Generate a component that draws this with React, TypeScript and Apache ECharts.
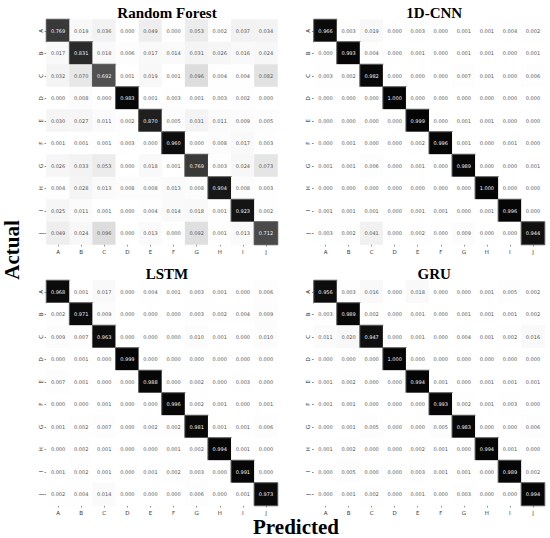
import React, { useEffect, useRef } from 'react';
import * as echarts from 'echarts';

const classes = ['A', 'B', 'C', 'D', 'E', 'F', 'G', 'H', 'I', 'J'];

const rfMatrix = [
  [0.769, 0.019, 0.036, 0.000, 0.049, 0.000, 0.053, 0.002, 0.037, 0.034],
  [0.017, 0.831, 0.018, 0.006, 0.017, 0.014, 0.031, 0.026, 0.016, 0.024],
  [0.032, 0.070, 0.692, 0.001, 0.019, 0.001, 0.096, 0.004, 0.004, 0.082],
  [0.000, 0.008, 0.000, 0.983, 0.001, 0.003, 0.001, 0.003, 0.002, 0.000],
  [0.030, 0.027, 0.011, 0.002, 0.870, 0.005, 0.031, 0.011, 0.009, 0.005],
  [0.001, 0.001, 0.001, 0.003, 0.000, 0.960, 0.000, 0.008, 0.017, 0.003],
  [0.026, 0.033, 0.053, 0.000, 0.018, 0.001, 0.769, 0.003, 0.024, 0.073],
  [0.004, 0.028, 0.013, 0.008, 0.008, 0.013, 0.008, 0.904, 0.008, 0.003],
  [0.025, 0.011, 0.001, 0.000, 0.004, 0.014, 0.018, 0.001, 0.923, 0.002],
  [0.049, 0.024, 0.096, 0.000, 0.013, 0.000, 0.092, 0.001, 0.013, 0.712],
];

const cnnMatrix = [
  [0.966, 0.003, 0.019, 0.000, 0.003, 0.000, 0.001, 0.001, 0.004, 0.002],
  [0.000, 0.993, 0.004, 0.000, 0.001, 0.000, 0.001, 0.001, 0.000, 0.001],
  [0.003, 0.002, 0.982, 0.000, 0.000, 0.000, 0.007, 0.001, 0.000, 0.006],
  [0.000, 0.000, 0.000, 1.000, 0.000, 0.000, 0.000, 0.000, 0.000, 0.000],
  [0.000, 0.000, 0.000, 0.000, 0.999, 0.000, 0.001, 0.001, 0.000, 0.000],
  [0.000, 0.001, 0.000, 0.000, 0.002, 0.996, 0.001, 0.000, 0.001, 0.000],
  [0.001, 0.001, 0.006, 0.000, 0.001, 0.000, 0.989, 0.000, 0.000, 0.001],
  [0.000, 0.000, 0.000, 0.000, 0.000, 0.000, 0.000, 1.000, 0.000, 0.000],
  [0.001, 0.001, 0.001, 0.000, 0.001, 0.001, 0.000, 0.001, 0.996, 0.000],
  [0.003, 0.002, 0.041, 0.000, 0.002, 0.000, 0.009, 0.000, 0.000, 0.944],
];

const lstmMatrix = [
  [0.968, 0.001, 0.017, 0.000, 0.004, 0.001, 0.003, 0.001, 0.000, 0.006],
  [0.002, 0.971, 0.009, 0.000, 0.000, 0.000, 0.003, 0.002, 0.004, 0.009],
  [0.009, 0.007, 0.963, 0.000, 0.000, 0.000, 0.010, 0.001, 0.000, 0.010],
  [0.000, 0.001, 0.000, 0.999, 0.000, 0.000, 0.000, 0.000, 0.000, 0.000],
  [0.007, 0.001, 0.000, 0.000, 0.988, 0.000, 0.002, 0.000, 0.003, 0.000],
  [0.000, 0.000, 0.001, 0.000, 0.000, 0.996, 0.002, 0.001, 0.000, 0.001],
  [0.001, 0.002, 0.007, 0.000, 0.002, 0.002, 0.981, 0.001, 0.001, 0.006],
  [0.000, 0.002, 0.001, 0.000, 0.000, 0.001, 0.002, 0.994, 0.001, 0.000],
  [0.001, 0.002, 0.001, 0.000, 0.001, 0.002, 0.003, 0.000, 0.991, 0.000],
  [0.002, 0.004, 0.014, 0.000, 0.000, 0.000, 0.006, 0.000, 0.001, 0.973],
];

const gruMatrix = [
  [0.956, 0.003, 0.016, 0.000, 0.018, 0.000, 0.000, 0.001, 0.005, 0.002],
  [0.003, 0.989, 0.002, 0.000, 0.001, 0.000, 0.001, 0.001, 0.001, 0.002],
  [0.011, 0.020, 0.947, 0.000, 0.001, 0.000, 0.004, 0.001, 0.002, 0.016],
  [0.000, 0.000, 0.000, 1.000, 0.000, 0.000, 0.000, 0.000, 0.000, 0.000],
  [0.001, 0.002, 0.000, 0.000, 0.994, 0.001, 0.000, 0.001, 0.001, 0.001],
  [0.001, 0.001, 0.000, 0.000, 0.000, 0.993, 0.002, 0.001, 0.003, 0.000],
  [0.000, 0.001, 0.005, 0.000, 0.000, 0.005, 0.983, 0.000, 0.000, 0.006],
  [0.001, 0.002, 0.000, 0.000, 0.002, 0.001, 0.000, 0.994, 0.001, 0.000],
  [0.000, 0.005, 0.000, 0.000, 0.003, 0.001, 0.001, 0.000, 0.989, 0.002],
  [0.000, 0.001, 0.002, 0.000, 0.001, 0.000, 0.003, 0.000, 0.000, 0.994],
];

const modelTitles = ['Random Forest', '1D-CNN', 'LSTM', 'GRU'];
const matrices = [rfMatrix, cnnMatrix, lstmMatrix, gruMatrix];

const gridBoxes = [
  { left: 46.5, top: 19.5, width: 231, height: 225 },
  { left: 314, top: 19.5, width: 230.5, height: 225 },
  { left: 46.5, top: 280.5, width: 231, height: 225 },
  { left: 314, top: 280.5, width: 230.5, height: 225 },
];

const serif = '"Liberation Serif", "Times New Roman", serif';
const sans = '"DejaVu Sans", sans-serif';

export default function App() {
  const ref = useRef<HTMLDivElement>(null);

  useEffect(() => {
    if (!ref.current) return;
    const chart = echarts.init(ref.current, undefined, { renderer: 'svg' });

    const grid = gridBoxes.map((g) => ({ ...g, containLabel: false }));

    const xAxis = gridBoxes.map((_, i) => ({
      type: 'category',
      gridIndex: i,
      data: classes,
      position: 'bottom',
      axisLine: { show: false },
      axisTick: { show: true, alignWithLabel: true, length: 2, lineStyle: { color: '#444', width: 0.6 } },
      axisLabel: { fontSize: 5.5, color: '#333', fontFamily: sans, margin: 4 },
      splitLine: { show: false },
      splitArea: { show: false },
    }));

    const yAxis = gridBoxes.map((_, i) => ({
      type: 'category',
      gridIndex: i,
      data: classes,
      inverse: true,
      axisLine: { show: false },
      axisTick: { show: true, alignWithLabel: true, length: 2, lineStyle: { color: '#444', width: 0.6 } },
      axisLabel: { fontSize: 5.5, color: '#333', fontFamily: sans, rotate: 90, margin: 3 },
      splitLine: { show: false },
      splitArea: { show: false },
    }));

    const series = matrices.map((m, i) => {
      const data: any[] = [];
      m.forEach((row, r) => {
        row.forEach((v, c) => {
          const dark = v > 0.5;
          data.push({
            value: [c, r, v],
            label: { color: dark ? '#f2f2f2' : '#555' },
            itemStyle: dark ? { borderColor: '#555', borderWidth: 1 } : { borderWidth: 0 },
          });
        });
      });
      return {
        type: 'heatmap',
        name: modelTitles[i],
        xAxisIndex: i,
        yAxisIndex: i,
        data,
        label: {
          show: true,
          fontSize: 5,
          fontFamily: sans,
          formatter: (p: any) => Number(p.value[2]).toFixed(3),
        },
        emphasis: { disabled: true },
      };
    });

    const title = modelTitles.map((t, i) => ({
      text: t,
      left: gridBoxes[i].left + gridBoxes[i].width / 2,
      top: gridBoxes[i].top - 19,
      textAlign: 'center',
      textStyle: { fontFamily: serif, fontWeight: 'bold', fontSize: 15, color: '#000' },
    }));

    chart.setOption({
      animation: false,
      backgroundColor: '#ffffff',
      title,
      grid,
      xAxis,
      yAxis,
      visualMap: {
        type: 'continuous',
        show: false,
        min: 0,
        max: 1,
        seriesIndex: [0, 1, 2, 3],
        dimension: 2,
        inRange: {
          color: ['#ffffff', '#dcdcdc', '#c6c6c6', '#b0b0b0', '#9a9a9a', '#848484', '#6e6e6e', '#4e4e4e', '#303030', '#181818', '#050505'],
        },
      },
      graphic: [
        {
          type: 'text',
          x: 12,
          y: 250,
          rotation: Math.PI / 2,
          style: {
            text: 'Actual',
            font: `bold 21px ${serif}`,
            fill: '#000',
            textAlign: 'center',
            textVerticalAlign: 'middle',
          },
        },
        {
          type: 'text',
          x: 296,
          y: 527,
          style: {
            text: 'Predicted',
            font: `bold 21px ${serif}`,
            fill: '#000',
            textAlign: 'center',
            textVerticalAlign: 'middle',
          },
        },
      ],
      series,
    });

    return () => chart.dispose();
  }, []);

  return (
    <div
      ref={ref}
      style={{ position: 'fixed', left: 0, top: 0, width: 550, height: 538, background: '#fff' }}
    />
  );
}
